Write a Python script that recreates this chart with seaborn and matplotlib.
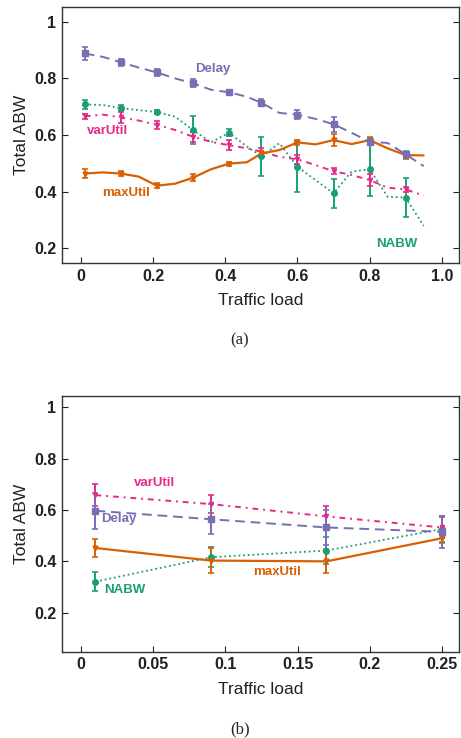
import numpy as np
import matplotlib
matplotlib.use("Agg")
import matplotlib.pyplot as plt
import seaborn as sns

# ---- panel (a): full traffic-load sweep ----
load_a = [0.01, 0.06, 0.11, 0.16, 0.21, 0.26, 0.31, 0.36, 0.41, 0.46,
          0.50, 0.55, 0.60, 0.65, 0.70, 0.75, 0.80, 0.85, 0.90, 0.95]
delay_a = [0.888, 0.876, 0.857, 0.838, 0.821, 0.800, 0.783, 0.760, 0.751, 0.735,
           0.714, 0.678, 0.672, 0.657, 0.638, 0.608, 0.576, 0.572, 0.532, 0.490]
maxutil_a = [0.464, 0.468, 0.464, 0.453, 0.421, 0.428, 0.449, 0.479, 0.499, 0.504,
             0.535, 0.547, 0.574, 0.567, 0.582, 0.568, 0.582, 0.553, 0.529, 0.528]
varutil_a = [0.666, 0.672, 0.662, 0.651, 0.636, 0.618, 0.594, 0.576, 0.564, 0.553,
             0.541, 0.523, 0.514, 0.494, 0.472, 0.459, 0.441, 0.414, 0.408, 0.386]
nabw_a = [0.708, 0.706, 0.695, 0.688, 0.681, 0.665, 0.618, 0.574, 0.608, 0.559,
          0.525, 0.571, 0.488, 0.441, 0.394, 0.471, 0.479, 0.382, 0.379, 0.279]
# error bars at every other load value (0.01, 0.11, ..., 0.90)
delay_err_a = [0.023, 0.012, 0.012, 0.015, 0.007, 0.012, 0.015, 0.027, 0.012, 0.012]
maxutil_err_a = [0.017, 0.010, 0.008, 0.012, 0.007, 0.010, 0.008, 0.020, 0.012, 0.012]
varutil_err_a = [0.009, 0.020, 0.015, 0.018, 0.018, 0.012, 0.015, 0.010, 0.020, 0.008]
nabw_err_a = [0.016, 0.010, 0.006, 0.048, 0.012, 0.068, 0.089, 0.051, 0.093, 0.068]

# ---- panel (b): low traffic load ----
load_b = [0.01, 0.09, 0.17, 0.25]
delay_b = [0.597, 0.564, 0.532, 0.515]
maxutil_b = [0.452, 0.403, 0.400, 0.490]
varutil_b = [0.658, 0.623, 0.575, 0.532]
nabw_b = [0.321, 0.416, 0.442, 0.526]
delay_err_b = [0.070, 0.058, 0.068, 0.062]
maxutil_err_b = [0.036, 0.050, 0.047, 0.020]
varutil_err_b = [0.042, 0.036, 0.040, 0.040]
nabw_err_b = [0.038, 0.038, 0.052, 0.052]

yticks = [0.2, 0.4, 0.6, 0.8, 1.0]
yticklabels = ["0.2", "0.4", "0.6", "0.8", "1"]
xticks_a = [0, 0.2, 0.4, 0.6, 0.8, 1.0]
xticklabels_a = ["0", "0.2", "0.4", "0.6", "0.8", "1.0"]
xticks_b = [0, 0.05, 0.1, 0.15, 0.2, 0.25]
xticklabels_b = ["0", "0.05", "0.1", "0.15", "0.2", "0.25"]

sns.set_style("ticks")
plt.rcParams["font.family"] = ["Liberation Sans", "DejaVu Sans"]

pal = sns.color_palette("Dark2")
GREEN, ORANGE, PURPLE, PINK = pal[0], pal[1], pal[2], pal[3]

STYLES = {
    "Delay": dict(color=PURPLE, ls=(0, (5, 3)), marker="s", ms=4.5, lw=1.4),
    "maxUtil": dict(color=ORANGE, ls="-", marker="v", ms=3.5, lw=1.6),
    "varUtil": dict(color=PINK, ls=(0, (3, 2.5, 1, 2.5)), marker="v", ms=3, lw=1.4),
    "NABW": dict(color=GREEN, ls=(0, (1, 1.6)), marker="o", ms=4, lw=1.3),
}

fig = plt.figure(figsize=(4.61, 7.38), dpi=100)
ax_a = fig.add_axes([0.1345, 0.6436, 0.8612, 0.3469])
ax_b = fig.add_axes([0.1345, 0.1169, 0.8612, 0.3465])


def draw_series(ax, x, y, xe, ye, err, name):
    st = STYLES[name]
    sns.lineplot(x=x, y=y, ax=ax, color=st["color"], linestyle=st["ls"],
                 linewidth=st["lw"], legend=False)
    ax.errorbar(xe, ye, yerr=err, fmt=st["marker"], color=st["color"],
                ms=st["ms"], elinewidth=1.4, capsize=2.2, capthick=1.2)


def style_axes(ax, xticks, xticklabels, xlim, ylim):
    ax.set_xlim(*xlim)
    ax.set_ylim(*ylim)
    ax.set_xticks(xticks)
    ax.set_xticklabels(xticklabels)
    ax.set_yticks(yticks)
    ax.set_yticklabels(yticklabels)
    ax.tick_params(direction="in", length=4, width=0.8, right=True,
                   labelsize=11.5, pad=4, colors="#222222")
    for lab in ax.get_xticklabels() + ax.get_yticklabels():
        lab.set_fontweight("bold")
    for sp in ax.spines.values():
        sp.set_visible(True)
        sp.set_linewidth(1.0)
        sp.set_color("#333333")
    ax.set_xlabel("Traffic load", fontsize=12.5, labelpad=7, color="#222222")
    ax.set_ylabel("Total ABW", fontsize=12.5, labelpad=4, color="#222222")


# panel (a)
series_a = [("NABW", nabw_a, nabw_err_a), ("varUtil", varutil_a, varutil_err_a),
            ("maxUtil", maxutil_a, maxutil_err_a), ("Delay", delay_a, delay_err_a)]
for name, vals, err in series_a:
    draw_series(ax_a, load_a, vals, load_a[0:19:2], vals[0:19:2], err, name)
style_axes(ax_a, xticks_a, xticklabels_a, (-0.053, 1.048), (0.148, 1.052))

lbl_kw = dict(fontsize=9.5, fontweight="bold", ha="center", va="center")
ax_a.text(0.366, 0.833, "Delay", color=PURPLE, **lbl_kw)
ax_a.text(0.074, 0.615, "varUtil", color=PINK, **lbl_kw)
ax_a.text(0.124, 0.396, "maxUtil", color=ORANGE, **lbl_kw)
ax_a.text(0.875, 0.214, "NABW", color=GREEN, **lbl_kw)

# panel (b)
series_b = [("NABW", nabw_b, nabw_err_b), ("varUtil", varutil_b, varutil_err_b),
            ("maxUtil", maxutil_b, maxutil_err_b), ("Delay", delay_b, delay_err_b)]
for name, vals, err in series_b:
    draw_series(ax_b, load_b, vals, load_b, vals, err, name)
style_axes(ax_b, xticks_b, xticklabels_b, (-0.0132, 0.2618), (0.048, 1.044))

ax_b.text(0.0507, 0.705, "varUtil", color=PINK, **lbl_kw)
ax_b.text(0.026, 0.565, "Delay", color=PURPLE, **lbl_kw)
ax_b.text(0.136, 0.357, "maxUtil", color=ORANGE, **lbl_kw)
ax_b.text(0.030, 0.290, "NABW", color=GREEN, **lbl_kw)

fig.text(0.52, 0.539, "(a)", ha="center", va="center", fontsize=12,
         family=["Liberation Serif", "DejaVu Serif"])
fig.text(0.52, 0.012, "(b)", ha="center", va="center", fontsize=12,
         family=["Liberation Serif", "DejaVu Serif"])

fig.savefig("out.png", dpi=100)
